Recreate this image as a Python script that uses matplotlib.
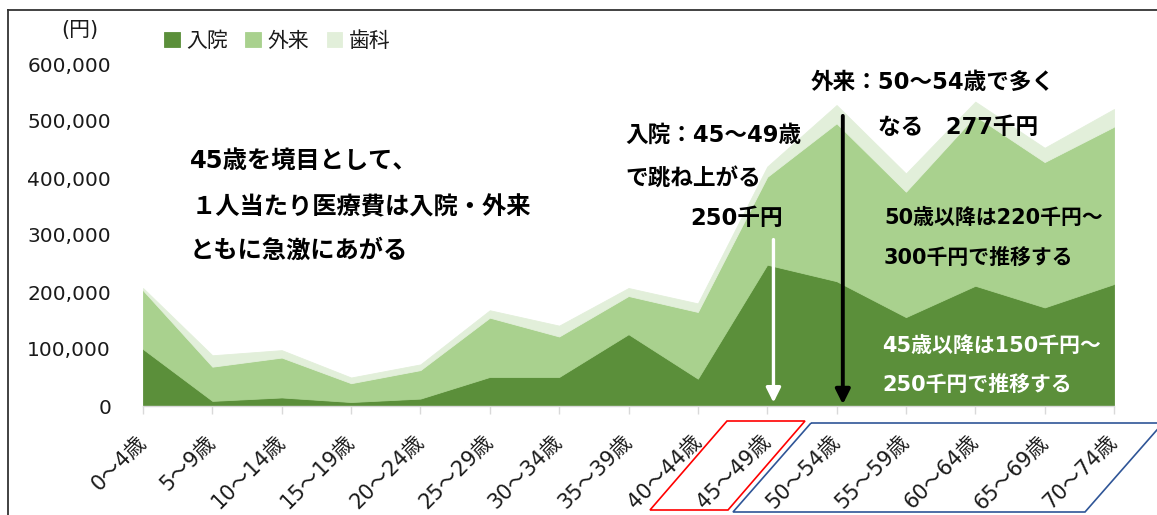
import matplotlib
matplotlib.use("Agg")
import matplotlib.pyplot as plt
from matplotlib.patches import Polygon
from matplotlib.lines import Line2D
from matplotlib.ticker import FuncFormatter

plt.rcParams['font.family'] = ['DejaVu Sans', 'Noto Sans CJK JP']

# ---- data (yen per person) ----
categories = ["0～4歳", "5～9歳", "10～14歳", "15～19歳", "20～24歳", "25～29歳",
              "30～34歳", "35～39歳", "40～44歳", "45～49歳", "50～54歳", "55～59歳",
              "60～64歳", "65～69歳", "70～74歳"]
inpatient = [100000, 9000, 15000, 7000, 13000, 51000, 51000, 126000, 48000,
             248000, 219000, 156000, 211000, 173000, 214000]
outpatient = [103000, 60000, 70000, 33000, 50000, 104000, 71000, 67000, 117000,
              154000, 277000, 220000, 298000, 255000, 276000]
dental = [4000, 20000, 13000, 10000, 10000, 13000, 19000, 14000, 15000,
          18000, 32000, 32000, 25000, 25000, 31000]
series_names = ["入院", "外来", "歯科"]
colors = ["#5B8F3A", "#A9D18E", "#E2EFDA"]
yticks = [0, 100000, 200000, 300000, 400000, 500000, 600000]

W, H = 1157, 515
fig = plt.figure(figsize=(W / 100, H / 100), dpi=100)

def fx(px):
    return px / W

def fy(py):
    return 1 - py / H

ax = fig.add_axes([fx(143), fy(406), (1114 - 143) / W, (406 - 64) / H])
x = list(range(len(categories)))
polys = ax.stackplot(x, inpatient, outpatient, dental, colors=colors,
                     labels=series_names, linewidth=0.6)
for p, c in zip(polys, colors):
    p.set_edgecolor(c)

ax.set_xlim(0, len(categories) - 1)
ax.set_ylim(0, 600000)
ax.set_yticks(yticks)
ax.yaxis.set_major_formatter(FuncFormatter(lambda v, p: f"{int(v):,}"))
ax.set_xticks(x)
ax.set_xticklabels(categories, rotation=45, ha='right', va='center',
                   rotation_mode='anchor', fontsize=15, color='#1a1a1a')
for s in ['top', 'right', 'left']:
    ax.spines[s].set_visible(False)
ax.spines['bottom'].set_color('#D9D9D9')
ax.spines['bottom'].set_linewidth(1.0)
ax.tick_params(axis='x', direction='out', length=5.5, width=1.0,
               color='#D9D9D9', pad=18)
ax.tick_params(axis='y', length=0, pad=23, labelsize=14.5, labelcolor='#1a1a1a')
ax.set_facecolor('none')

# legend
leg = fig.legend(loc='center left', bbox_to_anchor=(fx(164), fy(41)),
                 ncol=3, frameon=False, fontsize=15, handlelength=0.75,
                 handleheight=0.75, handletextpad=0.3, columnspacing=0.85,
                 borderpad=0, borderaxespad=0)
for t in leg.get_texts():
    t.set_color('#1a1a1a')

fig.text(fx(80), fy(30), "(円)", fontsize=15, ha='center', va='center', color='#1a1a1a')

# left annotation block
bold = dict(fontsize=17.5, fontweight='bold', color='black', va='center', ha='left')
fig.text(fx(190), fy(161), "45歳を境目として、", **bold)
fig.text(fx(192), fy(207), "１人当たり医療費は入院・外来", **bold)
fig.text(fx(190), fy(251), "ともに急激にあがる", **bold)

b2 = dict(fontsize=16.3, fontweight='bold', color='black', va='center', ha='left')
fig.text(fx(625), fy(135), "入院：45～49歳", **b2)
fig.text(fx(625), fy(178), "で跳ね上がる", **b2)
fig.text(fx(737), fy(219), "250千円", fontsize=16.3, fontweight='bold', color='black',
         va='center', ha='center')
fig.text(fx(811), fy(82), "外来：50～54歳で多く", **b2)
fig.text(fx(878), fy(127), "なる　277千円", **b2)
b3 = dict(b2)
b3['fontsize'] = 15
fig.text(fx(884), fy(218), "50歳以降は220千円～", **b3)
fig.text(fx(884), fy(258), "300千円で推移する", **b3)
w3 = dict(b3)
w3['color'] = 'white'
fig.text(fx(882), fy(346), "45歳以降は150千円～", **w3)
fig.text(fx(882), fy(385), "250千円で推移する", **w3)

# arrows
ax.annotate("", xy=(9.09, 6000), xytext=(9.09, 292000),
            arrowprops=dict(arrowstyle='-|>', color='white', lw=2.4,
                            mutation_scale=22, shrinkA=0, shrinkB=0))
ax.annotate("", xy=(10.09, 3000), xytext=(10.09, 509000),
            arrowprops=dict(arrowstyle='-|>', color='black', lw=2.8,
                            mutation_scale=22, shrinkA=0, shrinkB=0))

# parallelogram highlights
def px_poly(pts, ec):
    poly = Polygon([(fx(a), fy(b)) for a, b in pts], closed=True, fill=False,
                   edgecolor=ec, linewidth=1.2, transform=fig.transFigure,
                   clip_on=False)
    fig.add_artist(poly)

px_poly([(727, 421), (805, 421), (728, 510), (650, 510)], '#FF0000')
px_poly([(811, 423), (1163, 423), (1085, 512), (733, 512)], '#2F5597')

# outer frame
fig.add_artist(Line2D([fx(8), fx(1157)], [fy(10), fy(10)], color='#333333',
                      lw=1.3, transform=fig.transFigure))
fig.add_artist(Line2D([fx(8), fx(8)], [fy(10), fy(515)], color='#333333',
                      lw=1.3, transform=fig.transFigure))

fig.savefig("out.png", dpi=100)
